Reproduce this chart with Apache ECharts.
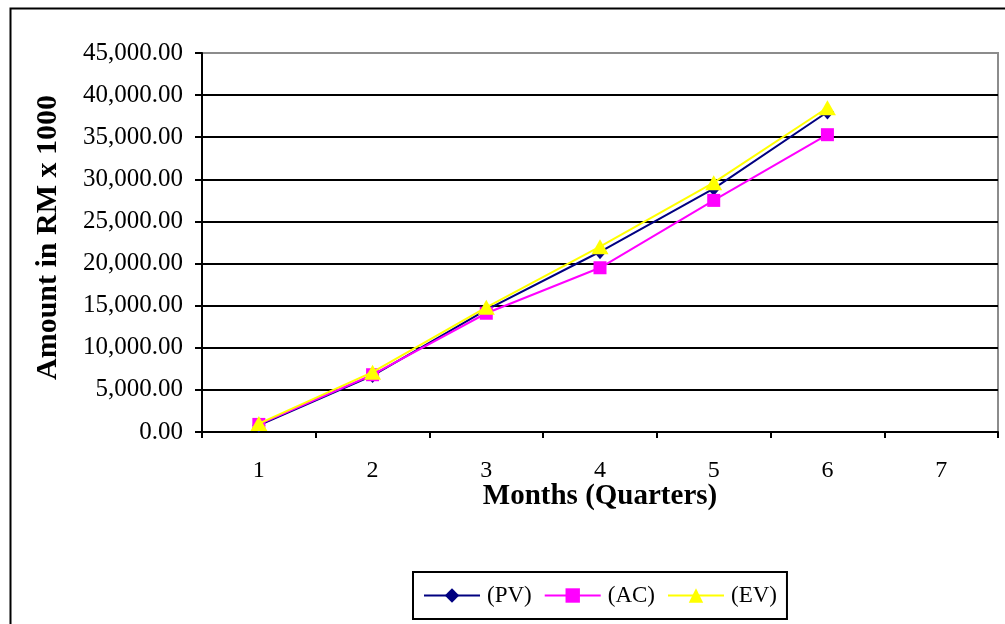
<!DOCTYPE html>
<html>
<head>
<meta charset="utf-8">
<script src="https://cdn.jsdelivr.net/npm/echarts@6/dist/echarts.min.js"></script>
<style>
html,body{margin:0;padding:0;background:#fff;}
#chart{width:1005px;height:624px;}
</style>
</head>
<body>
<div id="chart"></div>
<script>
const categories = ['1','2','3','4','5','6','7'];
const pvValues = [800, 6700, 14500, 21400, 28900, 38000];
const acValues = [900, 6800, 14100, 19500, 27500, 35300];
const evValues = [1000, 7100, 14800, 22000, 29600, 38500];
const seriesNames = ['(PV)', '(AC)', '(EV)'];
const yMin = 0, yMax = 45000, yStep = 5000;

const chart = echarts.init(document.getElementById('chart'), null, {renderer: 'canvas'});
const serif = '"Liberation Serif", "Times New Roman", serif';
const splitColors = [];
for (let v = yMin; v <= yMax; v += yStep) splitColors.push(v === yMax ? '#8c8c8c' : '#000');

chart.setOption({
  backgroundColor: '#fff',
  animation: false,
  graphic: [{
    type: 'rect', left: 8, top: 6,
    shape: {width: 1010, height: 640},
    style: {fill: null, stroke: '#000', lineWidth: 2}, z: 0
  }],
  grid: {left: 202, right: 7, top: 53, bottom: 192, show: true, borderColor: '#8c8c8c', borderWidth: 2, backgroundColor: 'transparent'},
  legend: {
    bottom: 5, left: 413,
    data: seriesNames,
    itemWidth: 56, itemHeight: 18, itemGap: 12,
    padding: [12, 10, 12, 10],
    borderColor: '#000', borderWidth: 2,
    textStyle: {fontFamily: serif, fontSize: 23, color: '#000', padding: [0, 0, 0, 2]}
  },
  xAxis: {
    type: 'category', data: categories, boundaryGap: true,
    name: 'Months (Quarters)', nameLocation: 'middle', nameGap: 50, nameMoveOverlap: false,
    nameTextStyle: {fontFamily: serif, fontSize: 29, fontWeight: 'bold', color: '#000'},
    axisLine: {lineStyle: {color: '#000', width: 2}},
    axisTick: {show: true, interval: 0, length: 6, lineStyle: {color: '#000', width: 2}},
    axisLabel: {fontFamily: serif, fontSize: 24, color: '#000', margin: 27, interval: 0},
    splitLine: {show: false}
  },
  yAxis: {
    type: 'value', min: yMin, max: yMax, interval: yStep,
    name: 'Amount in RM x 1000', nameLocation: 'middle', nameGap: 139, nameRotate: 90, nameMoveOverlap: false,
    nameTextStyle: {fontFamily: serif, fontSize: 30, fontWeight: 'bold', color: '#000', padding: [0, 0, 0, 10]},
    axisLine: {show: true, lineStyle: {color: '#000', width: 2}},
    axisTick: {show: true, length: 7, lineStyle: {color: '#000', width: 2}},
    axisLabel: {fontFamily: serif, fontSize: 25, color: '#000', margin: 19,
      formatter: v => v.toLocaleString('en-US', {minimumFractionDigits: 2, maximumFractionDigits: 2})},
    splitLine: {show: true, lineStyle: {color: splitColors, width: 2}}
  },
  series: [
    {name: seriesNames[0], type: 'line', data: pvValues, symbol: 'diamond', symbolSize: [13, 15],
     itemStyle: {color: '#000080'}, lineStyle: {color: '#000080', width: 2}, z: 3},
    {name: seriesNames[1], type: 'line', data: acValues, symbol: 'rect', symbolSize: 13,
     itemStyle: {color: '#ff00ff'}, lineStyle: {color: '#ff00ff', width: 2}, z: 4},
    {name: seriesNames[2], type: 'line', data: evValues, symbol: 'triangle', symbolSize: [17, 15],
     itemStyle: {color: '#ffff00'}, lineStyle: {color: '#ffff00', width: 2}, z: 5}
  ]
});
</script>
</body>
</html>
